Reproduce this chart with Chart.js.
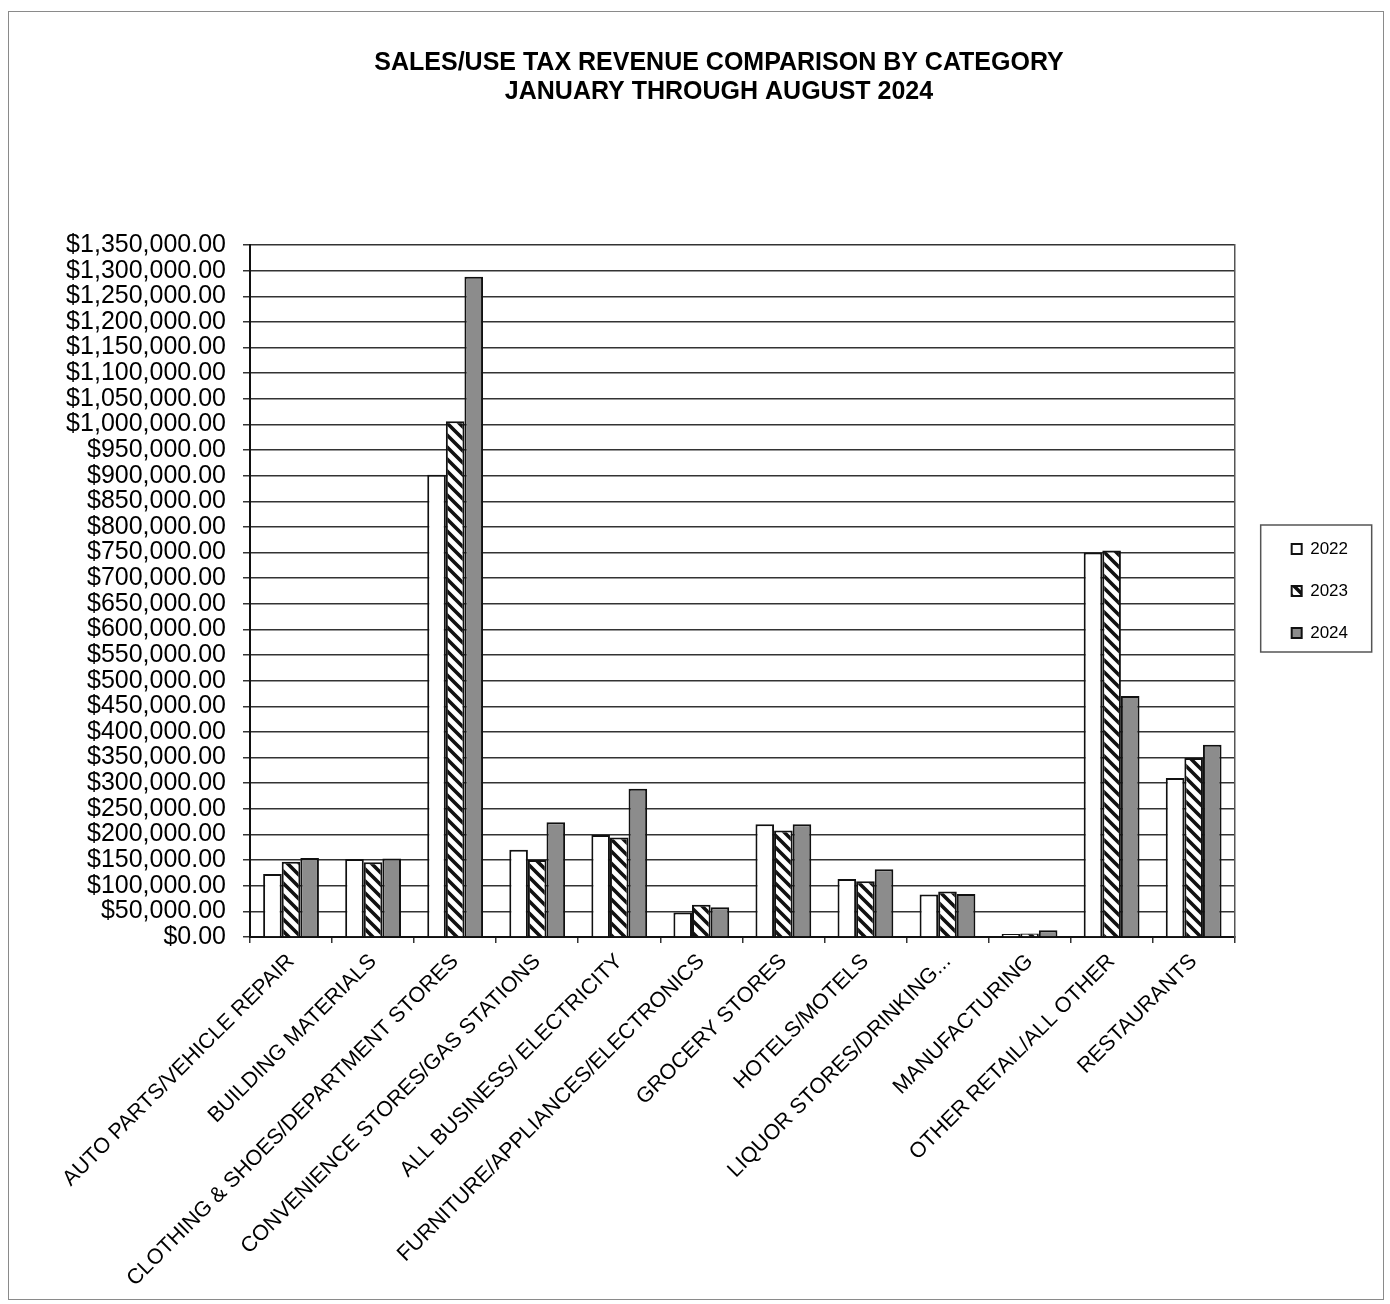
<!DOCTYPE html>
<html>
<head>
<meta charset="utf-8">
<script src="https://cdn.jsdelivr.net/npm/chart.js@4.4.1/dist/chart.umd.min.js"></script>
<style>
  html, body { margin: 0; padding: 0; background: #fff; }
  #wrap { position: relative; width: 1390px; height: 1304px; }
  #frame { position: absolute; left: 8px; top: 11px; width: 1376px; height: 1289px; border: 1.5px solid #8a8a8a; box-sizing: border-box; pointer-events: none; }
  canvas { position: absolute; left: 0; top: 0; }
</style>
</head>
<body>
<div id="wrap">
  <canvas id="c" width="1390" height="1304"></canvas>
  <div id="frame"></div>
</div>
<script>
const titleLines = ["SALES/USE TAX REVENUE COMPARISON BY CATEGORY", "JANUARY THROUGH AUGUST 2024"];
const categories = [
  "AUTO PARTS/VEHICLE REPAIR",
  "BUILDING MATERIALS",
  "CLOTHING & SHOES/DEPARTMENT STORES",
  "CONVENIENCE STORES/GAS STATIONS",
  "ALL BUSINESS/ ELECTRICITY",
  "FURNITURE/APPLIANCES/ELECTRONICS",
  "GROCERY STORES",
  "HOTELS/MOTELS",
  "LIQUOR STORES/DRINKING...",
  "MANUFACTURING",
  "OTHER RETAIL/ALL OTHER",
  "RESTAURANTS"
];
const seriesNames = ["2022", "2023", "2024"];
const values2022 = [123000, 152000, 902000, 170000, 199000, 48000, 220000, 113000, 83000, 6000, 750000, 310000];
const values2023 = [147000, 146000, 1006000, 150000, 194000, 63000, 208000, 109000, 89000, 7000, 754000, 349000];
const values2024 = [154000, 153000, 1288000, 224000, 289000, 58000, 220000, 132000, 84000, 13000, 470000, 375000];
const yMin = 0, yMax = 1350000, yStep = 50000;

const FONT = "'Liberation Sans', Arial, sans-serif";
const canvas = document.getElementById('c');
const ctx = canvas.getContext('2d');

function hatchPattern() {
  const s = 12;
  const c = document.createElement('canvas');
  c.width = s; c.height = s;
  const g = c.getContext('2d');
  g.fillStyle = '#ffffff';
  g.fillRect(0, 0, s, s);
  g.strokeStyle = '#111111';
  g.lineWidth = 3.6;
  g.beginPath();
  g.moveTo(-3, -3); g.lineTo(s + 3, s + 3);
  g.moveTo(-3, s - 3); g.lineTo(3, s + 3);
  g.moveTo(s - 3, -3); g.lineTo(s + 3, 3);
  g.stroke();
  return ctx.createPattern(c, 'repeat');
}

// let the y tick labels use the empty left margin (labels are clipped to the scale box otherwise)
const widenLabelArea = {
  id: 'widenLabelArea',
  beforeDraw(chart) {
    const s = chart.scales.y;
    if (s) s.left = 0;
  }
};

const legendFrame = {
  id: 'legendFrame',
  afterDraw(chart) {
    const L = chart.legend;
    if (!L || !L.legendHitBoxes || L.legendHitBoxes.length < 3) return;
    const hb = L.legendHitBoxes;
    const first = hb[0], last = hb[hb.length - 1];
    const x0 = first.left - 31;
    const y0 = first.top + first.height / 2 - 24;
    const y1 = last.top + last.height / 2 + 19;
    const c = chart.ctx;
    c.save();
    c.strokeStyle = '#555';
    c.lineWidth = 1.5;
    c.strokeRect(x0, y0, 111, y1 - y0);
    c.restore();
  }
};

const barCommon = { borderColor: '#111111', borderWidth: 2, categoryPercentage: 0.68, barPercentage: 1.0 };

new Chart(ctx, {
  type: 'bar',
  data: {
    labels: categories,
    datasets: [
      Object.assign({ label: seriesNames[0], data: values2022, backgroundColor: '#ffffff' }, barCommon),
      Object.assign({ label: seriesNames[1], data: values2023, backgroundColor: hatchPattern() }, barCommon),
      Object.assign({ label: seriesNames[2], data: values2024, backgroundColor: '#8c8c8c' }, barCommon)
    ]
  },
  options: {
    responsive: false,
    animation: false,
    devicePixelRatio: 1,
    layout: { padding: { left: 80, right: 32, top: 0, bottom: 0 } },
    plugins: {
      title: {
        display: true,
        text: titleLines,
        color: '#000',
        font: { family: FONT, size: 25, weight: 'bold', lineHeight: 1.16 },
        padding: { top: 49, bottom: 138 }
      },
      legend: {
        position: 'right',
        fullSize: false,
        align: 'center',
        labels: {
          boxWidth: 10, boxHeight: 10, padding: 25,
          color: '#000',
          font: { family: FONT, size: 17 }
        }
      },
      tooltip: { enabled: false }
    },
    scales: {
      x: {
        grid: { display: true, drawOnChartArea: false, drawTicks: true, tickLength: 6, color: '#333', lineWidth: 1.5, offset: true },
        border: { display: true, color: '#111', width: 2 },
        ticks: { autoSkip: false, minRotation: 45, maxRotation: 45, padding: 6, color: '#000', font: { family: FONT, size: 21.5 } },
        afterFit(s) { s.height = 367; }
      },
      y: {
        min: yMin, max: yMax,
        ticks: {
          stepSize: yStep, autoSkip: false, padding: 17, color: '#000',
          font: { family: FONT, size: 25 },
          callback: v => '$' + Number(v).toLocaleString('en-US', { minimumFractionDigits: 2, maximumFractionDigits: 2 })
        },
        grid: { color: '#333', lineWidth: 1.5, tickLength: 7 },
        border: { display: true, color: '#111', width: 2 },
        afterFit(s) { s.width = 170; }
      },
      y2: {
        position: 'right',
        display: true,
        grid: { display: false, drawTicks: false },
        ticks: { display: false },
        border: { display: true, color: '#555', width: 1.5 },
        afterFit(s) { s.width = 32; }
      }
    }
  },
  plugins: [widenLabelArea, legendFrame]
});
</script>
</body>
</html>
